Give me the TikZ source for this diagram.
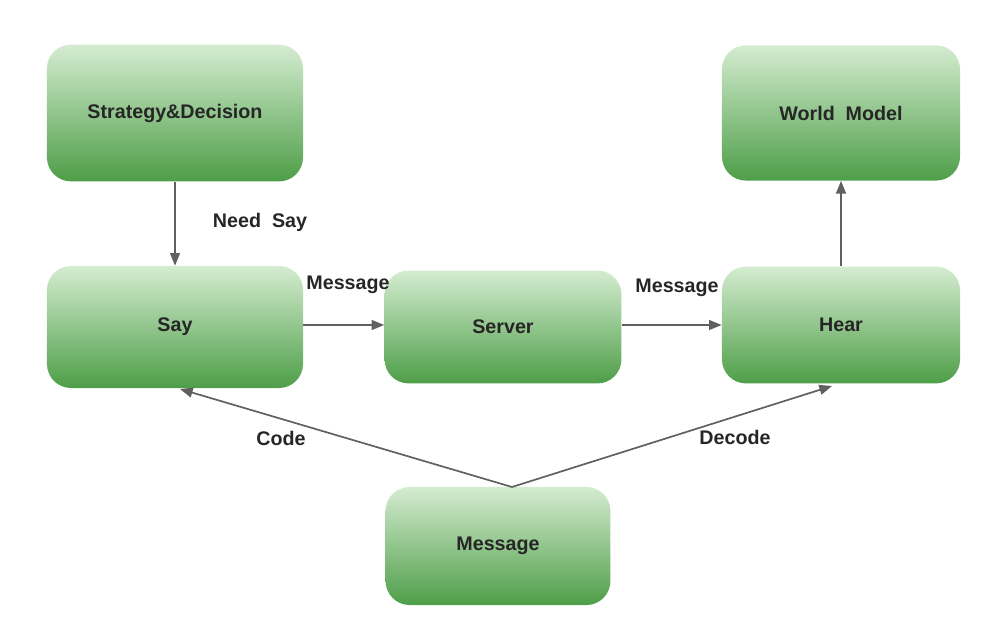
\documentclass[tikz,border=0pt]{standalone}
\usepackage{fontspec}
\setmainfont{Liberation Sans}
\usetikzlibrary{arrows.meta}
\definecolor{boxtop}{HTML}{D4ECD0}
\definecolor{boxbot}{HTML}{4E9E48}
\definecolor{linegray}{HTML}{606060}
\tikzset{
  box/.style={rounded corners=0.6cm, top color=boxtop, bottom color=boxbot, draw=none,
    font=\fontsize{14}{16}\selectfont\bfseries, text=black!85, align=center},
  link/.style={draw=linegray, line width=1.2pt, -{Triangle[length=9pt,width=7pt]}},
  lbl/.style={font=\fontsize{14}{16}\selectfont\bfseries, text=black!85}
}
\begin{document}
\begin{tikzpicture}[x=0.025cm,y=-0.025cm]
\useasboundingbox (0,0) rectangle (999,642);
\node[box, minimum width=6.4cm, minimum height=3.42cm] (strat) at (175,113) {Strategy\&Decision};
\node[box, minimum width=5.95cm, minimum height=3.38cm] (world) at (841,113) {World\ \ Model};
\node[box, minimum width=6.4cm, minimum height=3.05cm] (say) at (175,327) {Say};
\node[box, minimum width=5.92cm, minimum height=2.82cm] (server) at (503,327) {Server};
\node[box, minimum width=5.95cm, minimum height=2.92cm] (hear) at (841,325) {Hear};
\node[box, minimum width=5.62cm, minimum height=2.95cm] (msg) at (498,546) {Message};

\coordinate (src) at (512,487);
\coordinate (sayin) at (180,389);
\coordinate (hearin) at (832,386);

\path[link] (strat) -- (say);
\path[link] (say.east |- 0,325) -- (server.west |- 0,325);
\path[link] (server.east |- 0,325) -- (hear.west |- 0,325);
\path[link] (hear) -- (world);
\path[link] (src) -- (sayin);
\path[link] (src) -- (hearin);

\node[lbl] (needsay) at (260,222) {Need\ \ Say};
\node[lbl] (m1) at (348,285) {Message};
\node[lbl] (m2) at (677,288) {Message};
\node[lbl] (code) at (281,438) {Code};
\node[lbl] (decode) at (735,437) {Decode};
\end{tikzpicture}
\end{document}
